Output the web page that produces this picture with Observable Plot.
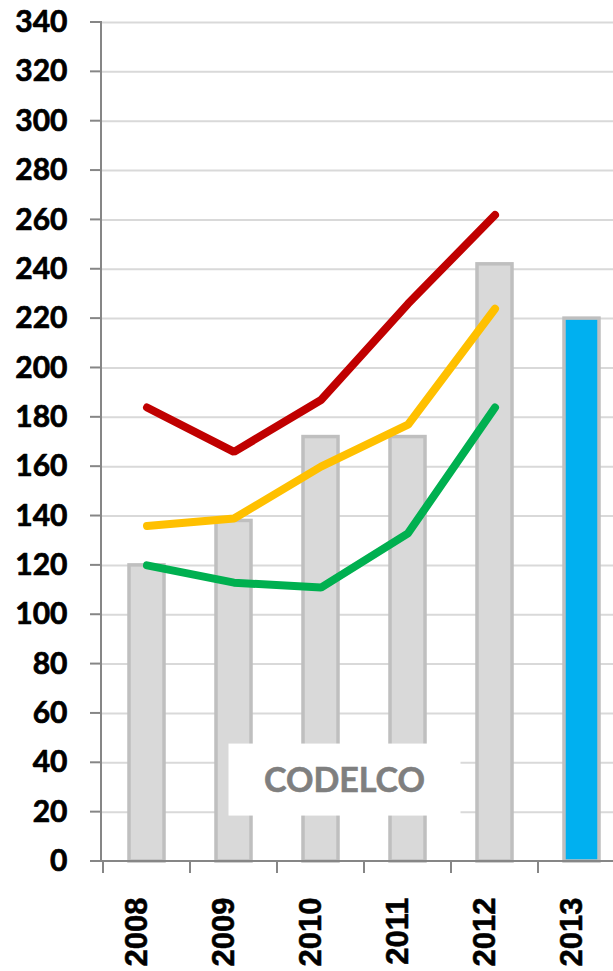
<!DOCTYPE html>
<html><head><meta charset="utf-8">
<script src="https://cdn.jsdelivr.net/npm/d3@7"></script>
<script src="https://cdn.jsdelivr.net/npm/@observablehq/plot@0.6"></script>
<style>html,body{margin:0;padding:0;background:#fff;overflow:hidden}svg{display:block}</style>
</head><body><div id="chart"></div>
<script>
// ---- data ----
const years = ["2008", "2009", "2010", "2011", "2012", "2013"];
const production = [120, 138, 172, 172, 242, 220];
const lineYears = ["2008", "2009", "2010", "2011", "2012"];
const seriesRed = [184, 166, 187, 226, 262];
const seriesYellow = [136, 139, 160, 177, 224];
const seriesGreen = [120, 113, 111, 133, 184];
const yTicks = [0, 20, 40, 60, 80, 100, 120, 140, 160, 180, 200, 220, 240, 260, 280, 300, 320, 340];
const annotation = [{label: "CODELCO", x: "2010", y: 33}];

// ---- custom marks ----
function axesMark(index, scales, values, dims) {
  const g = d3.create("svg:g").attr("stroke", "#868686").attr("stroke-width", 2).attr("fill", "none");
  const L = dims.marginLeft, T = dims.marginTop, y0 = dims.height - dims.marginBottom, W = dims.width;
  const y = scales.y, x = scales.x;
  g.append("line").attr("x1", L).attr("x2", L).attr("y1", T - 1).attr("y2", y0);
  for (const t of yTicks) {
    g.append("line").attr("x1", L - 11).attr("x2", L).attr("y1", y(t)).attr("y2", y(t));
  }
  g.append("line").attr("x1", L - 11).attr("x2", W).attr("y1", y0).attr("y2", y0);
  for (const yr of years) {
    const xs = x(yr);
    g.append("line").attr("x1", xs).attr("x2", xs).attr("y1", y0).attr("y2", y0 + 12);
  }
  return g.node();
}

function annotationMark(index, scales, values, dims) {
  const g = d3.create("svg:g");
  const x = scales.x, y = scales.y;
  const bw = typeof x.bandwidth === "function" ? x.bandwidth() : 0;
  for (const a of annotation) {
    const cx = x(a.x) + bw / 2 + 24, cy = y(a.y);
    g.append("rect").attr("x", cx - 116).attr("y", cy - 36).attr("width", 232).attr("height", 72).attr("fill", "white");
    g.append("text").attr("x", cx).attr("y", cy).attr("dy", "0.36em")
      .attr("text-anchor", "middle").attr("fill", "#7f7f7f")
      .attr("stroke", "#7f7f7f").attr("stroke-width", 0.6)
      .attr("font-family", "Lato, 'Open Sans', sans-serif").attr("font-weight", "bold").attr("font-size", 34)
      .text(a.label);
  }
  return g.node();
}

const lineOpts = {strokeWidth: 8, strokeLinecap: "round", strokeLinejoin: "miter"};

const chart = Plot.plot({
  width: 613,
  height: 971,
  marginLeft: 101,
  marginRight: 0,
  marginTop: 22,
  marginBottom: 110,
  style: {background: "white", fontFamily: "Lato, sans-serif", overflow: "hidden"},
  x: {type: "band", domain: years, range: [101, 626], padding: 0, axis: null},
  y: {domain: [0, 340], axis: null},
  marks: [
    Plot.ruleY(yTicks.filter(d => d > 0), {stroke: "#d9d9d9", strokeWidth: 2}),
    Plot.barY(production, {
      x: years, y: production,
      fill: (d, i) => (i === years.length - 1 ? "#00b0f0" : "#d9d9d9"),
      stroke: "#bfbfbf", strokeWidth: 3.5, insetLeft: 26, insetRight: 26
    }),
    axesMark,
    Plot.line(seriesRed, {x: lineYears, y: seriesRed, stroke: "#c00000", ...lineOpts}),
    Plot.line(seriesYellow, {x: lineYears, y: seriesYellow, stroke: "#ffc000", ...lineOpts}),
    Plot.line(seriesGreen, {x: lineYears, y: seriesGreen, stroke: "#00b050", ...lineOpts}),
    annotationMark,
    Plot.text(yTicks, {
      y: d => d, frameAnchor: "left", dx: -34, textAnchor: "end",
      fontSize: 30, fontWeight: "bold", fontFamily: "Lato, sans-serif", fill: "black",
      stroke: "black", strokeWidth: 0.7
    }),
    Plot.text(years, {
      x: d => d, frameAnchor: "bottom", dy: 36, rotate: -90, textAnchor: "end",
      fontSize: 31, fontWeight: "bold", fontFamily: "'Liberation Sans', Arial, sans-serif", fill: "black",
      stroke: "black", strokeWidth: 0.5
    })
  ]
});
document.getElementById("chart").appendChild(chart);
</script>
</body></html>
